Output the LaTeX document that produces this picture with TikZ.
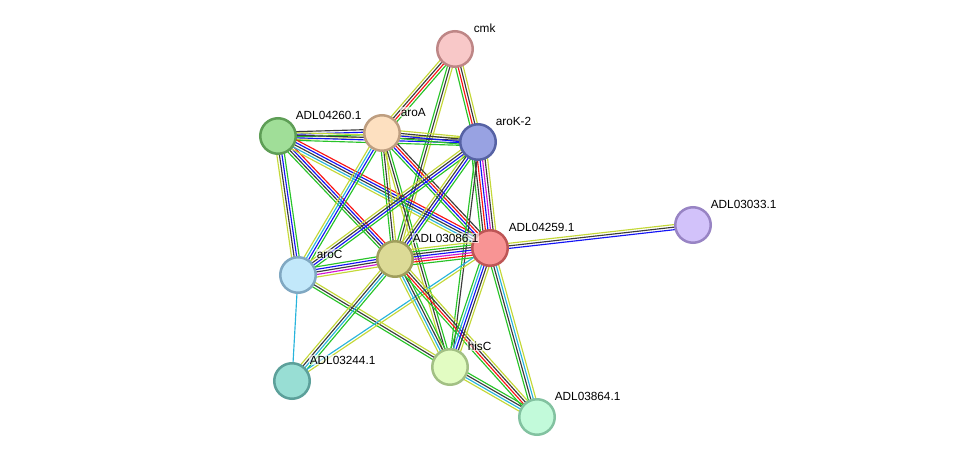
\documentclass[tikz,border=0pt]{standalone}
\usepackage{fontspec}
\setmainfont{Liberation Sans}
\usetikzlibrary{calc,backgrounds}
\definecolor{eG}{RGB}{40,195,40}
\definecolor{eR}{RGB}{250,20,20}
\definecolor{eB}{RGB}{20,20,245}
\definecolor{eK}{RGB}{60,60,60}
\definecolor{eC}{RGB}{40,180,220}
\definecolor{eM}{RGB}{210,20,210}
\definecolor{eY}{RGB}{196,216,56}
\tikzset{
  prot/.style={circle, line width=2.5pt, minimum size=35.5pt, inner sep=0pt},
  plabel/.style={anchor=west, font=\fontsize{11.8}{13}\selectfont, inner sep=0.6pt,
    fill=white, fill opacity=0.6, text opacity=1},
  edgeline/.style={line width=1.15pt}
}
\newcommand\netedge[3]{%
  \foreach \c [count=\i] in {#3} {\xdef\ecount{\i}}%
  \foreach \c [count=\i] in {#3} {%
    \pgfmathsetmacro\off{(\i-(\ecount+1)/2)*2.55}%
    \draw[edgeline,color=\c] ($(#1.center)!\off pt!90:(#2.center)$) -- ($(#2.center)!\off pt!-90:(#1.center)$);
  }}
\begin{document}
\begin{tikzpicture}[x=1pt,y=-1pt]
\useasboundingbox (0,0) rectangle (975,463);
% nodes
\node[prot, fill={rgb,255:red,248;green,200;blue,200}, draw={rgb,255:red,190;green,134;blue,134}] (cmk) at (455,49) {};
\node[prot, fill={rgb,255:red,160;green,222;blue,152}, draw={rgb,255:red,94;green,158;blue,86}] (n4260) at (278,136) {};
\node[prot, fill={rgb,255:red,253;green,224;blue,192}, draw={rgb,255:red,190;green,158;blue,128}] (aroA) at (382,133) {};
\node[prot, fill={rgb,255:red,152;green,162;blue,226}, draw={rgb,255:red,86;green,98;blue,164}] (aroK) at (478,142) {};
\node[prot, fill={rgb,255:red,210;green,194;blue,250}, draw={rgb,255:red,152;green,132;blue,196}] (n3033) at (693,225) {};
\node[prot, fill={rgb,255:red,248;green,148;blue,148}, draw={rgb,255:red,190;green,86;blue,86}] (n4259) at (490,248) {};
\node[prot, fill={rgb,255:red,220;green,218;blue,150}, draw={rgb,255:red,160;green,158;blue,92}] (n3086) at (395,259) {};
\node[prot, fill={rgb,255:red,194;green,232;blue,250}, draw={rgb,255:red,128;green,168;blue,194}] (aroC) at (298,275) {};
\node[prot, fill={rgb,255:red,152;green,222;blue,212}, draw={rgb,255:red,92;green,160;blue,154}] (n3244) at (292,381) {};
\node[prot, fill={rgb,255:red,226;green,252;blue,194}, draw={rgb,255:red,162;green,192;blue,132}] (hisC) at (450,367) {};
\node[prot, fill={rgb,255:red,194;green,250;blue,218}, draw={rgb,255:red,130;green,194;blue,160}] (n3864) at (537,417) {};
% edges
\begin{pgfonlayer}{background}
\netedge{cmk}{aroA}{eY,eK,eR,eG}
\netedge{cmk}{aroK}{eG,eR,eK,eY}
\netedge{cmk}{n3086}{eG,eK,eY}
\netedge{n4260}{aroA}{eY,eG,eB,eK}
\netedge{n4260}{aroK}{eG,eB,eK,eY}
\netedge{aroA}{aroK}{eG,eB,eK,eY}
\netedge{n4260}{aroC}{eY,eK,eB,eG}
\netedge{n4260}{n3086}{eG,eK,eB,eR}
\netedge{n4260}{n4259}{eY,eC,eK,eB,eR}
\netedge{aroA}{aroC}{eY,eC,eB,eG}
\netedge{aroA}{n3086}{eG,eK,eY}
\netedge{aroA}{n4259}{eG,eB,eR,eK}
\netedge{aroA}{hisC}{eY,eK,eG}
\netedge{aroK}{aroC}{eY,eK,eB,eG}
\netedge{aroK}{n3086}{eY,eK,eB,eG}
\netedge{aroK}{n4259}{eG,eK,eR,eB,eM,eK,eY}
\netedge{aroK}{hisC}{eG,eK}
\netedge{n3086}{n4259}{eG,eR,eM,eB,eK,eG,eY}
\netedge{aroC}{n3086}{eY,eM,eK,eB,eG}
\netedge{aroC}{n3244}{eC}
\netedge{aroC}{hisC}{eG,eK,eY}
\netedge{n3086}{n3244}{eY,eK,eC,eG}
\netedge{n4259}{n3244}{eC,eY}
\netedge{n3086}{hisC}{eY,eC,eK,eG}
\netedge{n3086}{n3864}{eG,eR,eK,eY}
\netedge{n4259}{hisC}{eG,eC,eB,eK,eY}
\netedge{n4259}{n3864}{eG,eK,eC,eY}
\netedge{hisC}{n3864}{eY,eC,eK,eG}
\netedge{n4259}{n3033}{eB,eK,eY}
\end{pgfonlayer}
% labels
\node[plabel] (lcmk) at ($(cmk)+(18,-21)$) {cmk};
\node[plabel] (l4260) at ($(n4260)+(17,-21)$) {ADL04260.1};
\node[plabel] (laroA) at ($(aroA)+(18,-21)$) {aroA};
\node[plabel] (laroK) at ($(aroK)+(17,-21)$) {aroK-2};
\node[plabel] (l3033) at ($(n3033)+(17,-21)$) {ADL03033.1};
\node[plabel] (l4259) at ($(n4259)+(18,-21)$) {ADL04259.1};
\node[plabel] (l3086) at ($(n3086)+(17,-21)$) {ADL03086.1};
\node[plabel] (laroC) at ($(aroC)+(18,-21)$) {aroC};
\node[plabel] (l3244) at ($(n3244)+(17,-21)$) {ADL03244.1};
\node[plabel] (lhisC) at ($(hisC)+(17,-21)$) {hisC};
\node[plabel] (l3864) at ($(n3864)+(17,-21)$) {ADL03864.1};
\end{tikzpicture}
\end{document}
